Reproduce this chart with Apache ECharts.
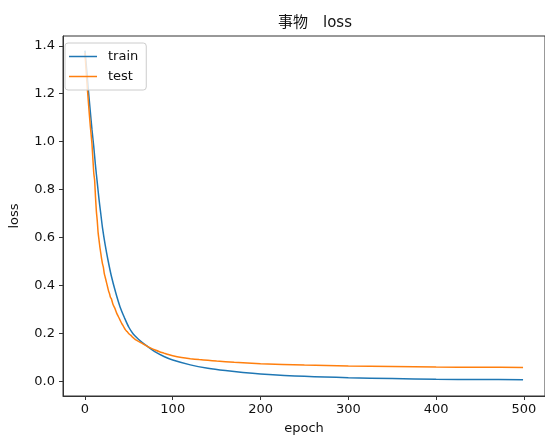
<!DOCTYPE html>
<html>
<head>
<meta charset="utf-8">
<script src="https://cdn.jsdelivr.net/npm/echarts@6/dist/echarts.min.js"></script>
<style>
html, body { margin: 0; padding: 0; background: #fff; }
#container { width: 545px; height: 440px; }
</style>
</head>
<body>
<div id="container"></div>
<script>
// values
var trainEpochs = [0, 2, 4, 6, 8, 10, 12, 14, 16, 18, 20, 23, 26, 30, 35, 40, 45, 50, 55, 60, 65, 70, 80, 90, 100, 120, 140, 160, 180, 200, 250, 300, 350, 400, 450, 499];
var trainLoss = [1.38, 1.30, 1.21, 1.13, 1.05, 0.98, 0.90, 0.83, 0.76, 0.70, 0.64, 0.57, 0.51, 0.44, 0.37, 0.31, 0.265, 0.225, 0.197, 0.178, 0.162, 0.148, 0.122, 0.103, 0.088, 0.068, 0.054, 0.044, 0.036, 0.030, 0.020, 0.014, 0.011, 0.008, 0.007, 0.006];

var testEpochs = [0, 2, 4, 6, 8, 10, 11, 12, 13, 14, 15, 16, 17, 18, 19, 20, 21, 22, 23, 24, 25, 26, 27, 28, 29, 30, 32, 34, 36, 38, 40, 42, 44, 46, 48, 50, 52, 54, 56, 58, 60, 63, 66, 70, 75, 80, 85, 90, 95, 100, 110, 120, 130, 140, 150, 170, 200, 250, 300, 350, 400, 450, 499];
var testLoss = [1.37, 1.26, 1.16, 1.07, 0.99, 0.87, 0.84, 0.77, 0.71, 0.67, 0.62, 0.59, 0.56, 0.535, 0.51, 0.49, 0.475, 0.45, 0.435, 0.42, 0.405, 0.39, 0.375, 0.365, 0.35, 0.345, 0.32, 0.305, 0.285, 0.27, 0.255, 0.24, 0.228, 0.215, 0.207, 0.198, 0.192, 0.184, 0.178, 0.172, 0.168, 0.162, 0.156, 0.147, 0.138, 0.130, 0.123, 0.117, 0.111, 0.106, 0.099, 0.094, 0.090, 0.087, 0.084, 0.079, 0.073, 0.067, 0.063, 0.061, 0.059, 0.058, 0.057];

var xTicks = [0, 100, 200, 300, 400, 500];
var yTicks = [0, 0.2, 0.4, 0.6, 0.8, 1.0, 1.2, 1.4];

function pairs(xs, ys) {
    return xs.map(function (x, i) { return [x, ys[i]]; });
}

var font = 'DejaVu Sans, Noto Sans CJK SC, sans-serif';
var myChart = echarts.init(document.getElementById('container'));
var option = {
    animation: false,
    backgroundColor: '#fff',
    title: {
        text: '事物\u3000loss',
        left: 310,
        textAlign: 'center',
        top: 11,
        textStyle: { fontFamily: font, fontSize: 15, fontWeight: 'normal', color: '#111' }
    },
    legend: {
        orient: 'vertical',
        left: 65,
        top: 43,
        padding: [7, 8, 7, 4],
        icon: 'rect',
        itemWidth: 28,
        itemHeight: 1.5,
        itemGap: 7,
        backgroundColor: 'rgba(255,255,255,0.8)',
        borderColor: '#ccc',
        borderWidth: 1,
        borderRadius: 3,
        textStyle: { fontFamily: font, fontSize: 13, color: '#111', padding: [0, 0, 0, 6] },
        data: ['train', 'test']
    },
    grid: {
        left: 57,
        top: 36,
        width: 490,
        height: 364,
        show: true,
        borderColor: '#333',
        borderWidth: 1
    },
    xAxis: {
        type: 'value',
        min: -25,
        max: 524,
        name: 'epoch',
        nameLocation: 'middle',
        nameGap: 26,
        nameTextStyle: { fontFamily: font, fontSize: 13, color: '#111' },
        axisLine: { show: true, onZero: false, lineStyle: { color: '#333' } },
        axisTick: { show: true, length: 4, customValues: xTicks, lineStyle: { color: '#333' } },
        axisLabel: { customValues: xTicks, fontFamily: font, fontSize: 13, color: '#111', margin: 7 },
        splitLine: { show: false }
    },
    yAxis: {
        type: 'value',
        min: -0.062,
        max: 1.441,
        name: 'loss',
        nameLocation: 'middle',
        nameGap: 42,
        nameTextStyle: { fontFamily: font, fontSize: 13, color: '#111' },
        axisLine: { show: true, onZero: false, lineStyle: { color: '#333' } },
        axisTick: { show: true, length: 4, customValues: yTicks, lineStyle: { color: '#333' } },
        axisLabel: {
            customValues: yTicks, fontFamily: font, fontSize: 13, color: '#111', margin: 8,
            formatter: function (v) { return v.toFixed(1); }
        },
        splitLine: { show: false }
    },
    series: [{
        name: 'train',
        type: 'line',
        data: pairs(trainEpochs, trainLoss),
        symbol: 'none',
        smooth: 0.3,
        lineStyle: { width: 1.5, color: '#1f77b4' },
        itemStyle: { color: '#1f77b4' }
    }, {
        name: 'test',
        type: 'line',
        data: pairs(testEpochs, testLoss),
        symbol: 'none',
        smooth: 0.2,
        lineStyle: { width: 1.5, color: '#ff7f0e' },
        itemStyle: { color: '#ff7f0e' }
    }]
};
myChart.setOption(option);
</script>
</body>
</html>
